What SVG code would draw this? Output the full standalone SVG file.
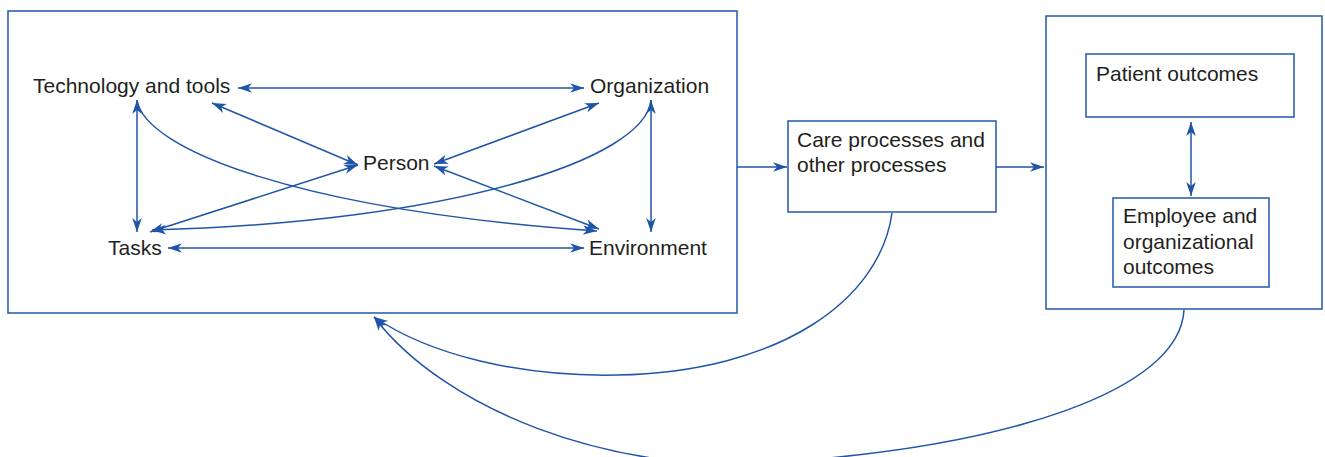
<svg xmlns="http://www.w3.org/2000/svg" width="1325" height="457" viewBox="0 0 1325 457">
<style>
.box{fill:none;stroke:#2f62b0;stroke-width:1.6}
.c{fill:none;stroke:#1f55a8;stroke-width:1.5}
.t{font-family:"Liberation Sans",Arial,sans-serif;font-size:21px;fill:#231f20}
</style>
<defs>
<marker id="ah" viewBox="-15 -5 16 10" refX="0" refY="0" markerWidth="16" markerHeight="10" markerUnits="userSpaceOnUse" orient="auto-start-reverse">
<path d="M0,0 L-14,-4.8 L-10,0 L-14,4.8 Z" fill="#1f55a8"/>
</marker>
</defs>
<rect width="1325" height="457" fill="#fff"/>
<g id="left-box"><rect class="box" x="8" y="11" width="729" height="302"/></g>
<g id="tech"><text class="t" x="33" y="93">Technology and tools</text></g>
<g id="org"><text class="t" x="590" y="93">Organization</text></g>
<g id="person"><text class="t" x="363" y="170">Person</text></g>
<g id="tasks"><text class="t" x="108" y="255">Tasks</text></g>
<g id="env"><text class="t" x="589" y="255">Environment</text></g>
<g id="care"><rect class="box" x="788" y="121" width="208" height="91"/><text class="t" x="797" y="147">Care processes and</text><text class="t" x="797" y="172">other processes</text></g>
<g id="right-box"><rect class="box" x="1046" y="16" width="276" height="293"/></g>
<g id="patient"><rect class="box" x="1086" y="54" width="208" height="63"/><text class="t" x="1096" y="81">Patient outcomes</text></g>
<g id="employee"><rect class="box" x="1113" y="198" width="156" height="89"/><text class="t" x="1123" y="223">Employee and</text><text class="t" x="1123" y="249">organizational</text><text class="t" x="1123" y="274">outcomes</text></g>
<g id="connectors">
<path class="c" d="M238,88 L584,88" marker-start="url(#ah)" marker-end="url(#ah)"/>
<path class="c" d="M137,100 L137,232" marker-start="url(#ah)" marker-end="url(#ah)"/>
<path class="c" d="M212,103 L358,165" marker-start="url(#ah)" marker-end="url(#ah)"/>
<path class="c" d="M150,232 L358,165" marker-start="url(#ah)" marker-end="url(#ah)"/>
<path class="c" d="M599,103 L434,164" marker-start="url(#ah)" marker-end="url(#ah)"/>
<path class="c" d="M434,166 L599,229" marker-start="url(#ah)" marker-end="url(#ah)"/>
<path class="c" d="M651,100 L651,232" marker-start="url(#ah)" marker-end="url(#ah)"/>
<path class="c" d="M168,248 L584,248" marker-start="url(#ah)" marker-end="url(#ah)"/>
<path class="c" d="M137,100 C145,150 300,210 597,231" marker-end="url(#ah)"/>
<path class="c" d="M651,100 C645,160 450,222 152,230" marker-end="url(#ah)"/>
<path class="c" d="M737,167 L787,167" marker-end="url(#ah)"/>
<path class="c" d="M996,167 L1044,167" marker-end="url(#ah)"/>
<path class="c" d="M1191,122 L1191,196" marker-start="url(#ah)" marker-end="url(#ah)"/>
<path class="c" d="M892,213 C880,300 780,372 617,375 C520,377 430,355 374,317" marker-end="url(#ah)"/>
<path class="c" d="M1184,310 C1180,390 1010,448 765,463 C610,473 445,410 374,317" marker-end="url(#ah)"/>
</g>
</svg>
